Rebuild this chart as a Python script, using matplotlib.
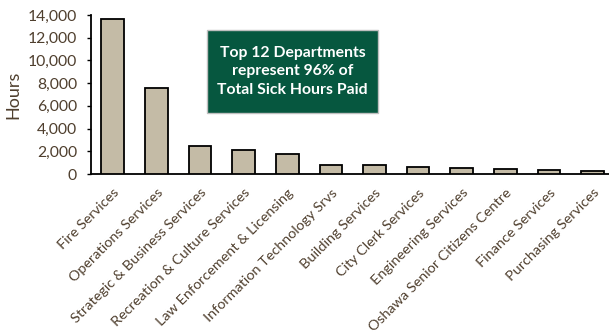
import numpy as np
import matplotlib.pyplot as plt
from matplotlib.patches import Rectangle
from matplotlib.ticker import FuncFormatter

departments = ['Fire Services', 'Operations Services', 'Strategic & Business Services',
               'Recreation & Culture Services', 'Law Enforcement & Licensing',
               'Information Technology Srvs', 'Building Services', 'City Clerk Services',
               'Engineering Services', 'Oshawa Senior Citizens Centre',
               'Finance Services', 'Purchasing Services']
hours = [13650, 7530, 2470, 2070, 1770, 800, 780, 650, 530, 440, 350, 300]
y_ticks = [0, 2000, 4000, 6000, 8000, 10000, 12000, 14000]

text_color = '#4F3F2E'
plt.rcParams['font.family'] = ['Lato', 'DejaVu Sans']

fig = plt.figure(figsize=(6.09, 3.33), dpi=100)
ax = fig.add_axes([91 / 609, 1 - 174 / 333, (614.3 - 91) / 609, (174 - 15) / 333])

x = np.arange(len(departments))
ax.bar(x, hours, width=0.52, color='#C4BBA6', edgecolor='black', linewidth=1.3, zorder=3)

ax.set_xlim(-0.5, len(departments) - 0.5)
ax.set_ylim(0, 14000)
ax.set_yticks(y_ticks)
ax.yaxis.set_major_formatter(FuncFormatter(lambda v, p: f'{int(v):,}'))
ax.set_xticks(x)
ax.set_xticklabels(departments, rotation=45, ha='right', rotation_mode='anchor',
                   fontsize=10.4, color=text_color)
ax.tick_params(axis='x', length=0, pad=9)
ax.tick_params(axis='y', length=3, width=1, colors='black', labelcolor=text_color,
               labelsize=11.3, pad=7)
ax.set_ylabel('Hours', fontsize=13, color=text_color, labelpad=5)

for side in ['top', 'right']:
    ax.spines[side].set_visible(False)
for side in ['left', 'bottom']:
    ax.spines[side].set_linewidth(1.3)
    ax.spines[side].set_color('black')

# green callout box
bx0, bx1, by0, by1 = 207, 378, 30, 113
fig.patches.append(Rectangle((bx0 / 609, 1 - by1 / 333), (bx1 - bx0) / 609, (by1 - by0) / 333,
                             transform=fig.transFigure, facecolor='#06573F',
                             edgecolor='#BFBFBF', linewidth=1))
fig.text((bx0 + bx1) / 2 / 609, 1 - (by0 + by1) / 2 / 333,
         'Top 12 Departments\nrepresent 96% of\nTotal Sick Hours Paid',
         ha='center', va='center', fontsize=11.3, fontweight='bold', color='white',
         linespacing=1.4)

fig.savefig('out.png', dpi=100)
